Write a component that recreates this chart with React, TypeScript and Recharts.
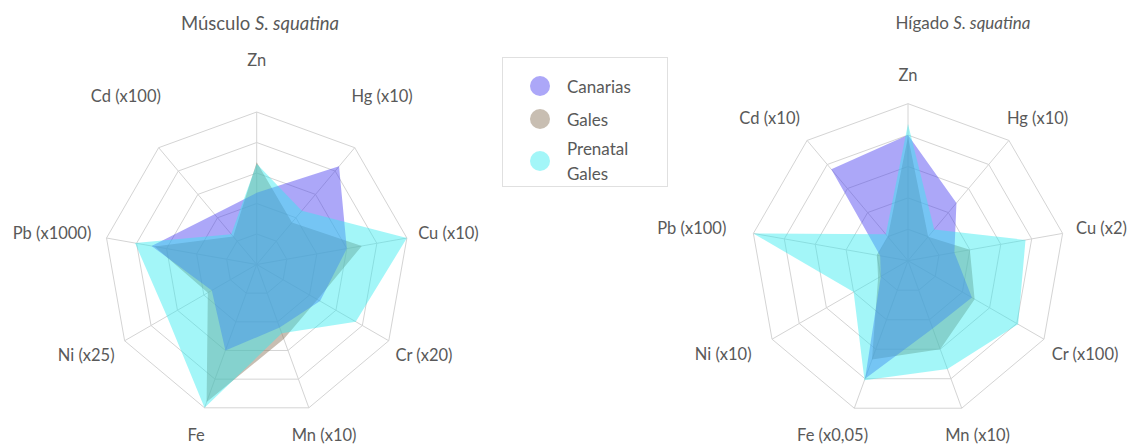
import React from "react";
import {
  RadarChart,
  Radar,
  PolarGrid,
  PolarAngleAxis,
  PolarRadiusAxis,
} from "recharts";

// axis labels (clockwise from the top)
const musculoLabels = ["Zn", "Hg (x10)", "Cu (x10)", "Cr (x20)", "Mn (x10)", "Fe", "Ni (x25)", "Pb (x1000)", "Cd (x100)"];
const higadoLabels = ["Zn", "Hg (x10)", "Cu (x2)", "Cr (x100)", "Mn (x10)", "Fe (x0,05)", "Ni (x10)", "Pb (x100)", "Cd (x10)"];

// Músculo S. squatina
const musculoCanarias = [2.35, 4.2, 3.0, 2.4, 2.2, 3.0, 1.7, 3.5, 2.15];
const musculoGales = [3.35, 1.8, 3.5, 2.3, 2.6, 4.8, 1.85, 3.4, 1.2];
const musculoPrenatal = [3.3, 2.3, 5.0, 3.75, 2.4, 5.0, 3.4, 4.05, 1.3];

// Hígado S. squatina
const higadoCanarias = [4.0, 2.4, 1.5, 2.35, 2.3, 4.0, 1.0, 0.9, 3.8];
const higadoGales = [3.95, 1.0, 2.0, 2.45, 3.0, 3.35, 1.1, 1.0, 1.0];
const higadoPrenatal = [4.35, 1.3, 3.8, 4.05, 3.67, 4.05, 2.0, 5.0, 1.1];

const FONT = "Lato, 'Open Sans', sans-serif";
const TEXT = "#595959";
const LABEL_SIZE = 16.5;

// drawing order: gales below, prenatal on top
const SERIES = [
  { key: "gales", fill: "#8c785f", opacity: 0.48 },
  { key: "canarias", fill: "#463cf0", opacity: 0.45 },
  { key: "prenatal", fill: "#32ebf0", opacity: 0.45 },
];

const LEGEND = [
  { name: ["Canarias"], fill: "#463cf0", opacity: 0.45 },
  { name: ["Gales"], fill: "#8c785f", opacity: 0.48 },
  { name: ["Prenatal", "Gales"], fill: "#32ebf0", opacity: 0.45 },
];

const buildRows = (labels: string[], c: number[], g: number[], p: number[]) =>
  labels.map((label, i) => ({ label, canarias: c[i], gales: g[i], prenatal: p[i] }));

let ctx: CanvasRenderingContext2D | null = null;
const textWidth = (t: string) => {
  if (!ctx) ctx = document.createElement("canvas").getContext("2d");
  if (!ctx) return t.length * 8;
  ctx.font = `${LABEL_SIZE}px Lato`;
  return ctx.measureText(t).width;
};

const makeTick =
  (cx: number, cy: number, r: number, gap: number, gapLeft: number, upLift: number | null) =>
  (props: any) => {
    const a = (props.payload.coordinate * Math.PI) / 180;
    const cos = Math.cos(a);
    const sin = Math.sin(a);
    const label = String(props.payload.value);
    const w = textWidth(label);
    const g = cos < -0.2 ? gapLeft : gap;
    const x = cx + r * cos + cos * (w / 2 + g);
    const dy = upLift !== null && sin > 0.5 ? upLift : sin * 29;
    const y = cy - r * sin - dy;
    return (
      <text
        x={x}
        y={y}
        textAnchor="middle"
        dominantBaseline="central"
        fontSize={LABEL_SIZE}
        fontFamily={FONT}
        fill={TEXT}
      >
        {label}
      </text>
    );
  };

interface IRadarProps {
  data: any[];
  cx: number;
  cy: number;
  r: number;
  gap: number;
  gapLeft: number;
  upLift: number | null;
}

const SpiderChart: React.FC<IRadarProps> = ({ data, cx, cy, r, gap, gapLeft, upLift }) => (
  <RadarChart
    width={1135}
    height={448}
    cx={cx}
    cy={cy}
    outerRadius={r}
    data={data}
    margin={{ top: 0, right: 0, bottom: 0, left: 0 }}
    style={{ position: "absolute", left: 0, top: 0 }}
  >
    <PolarGrid gridType="polygon" stroke="#d4d4d4" innerRadius={r / 5} />
    <PolarAngleAxis
      dataKey="label"
      tick={makeTick(cx, cy, r, gap, gapLeft, upLift)}
      axisLine={false}
      tickLine={false}
    />
    <PolarRadiusAxis domain={[0, 5]} tickCount={6} tick={false} axisLine={false} />
    {SERIES.map((s) => (
      <Radar
        key={s.key}
        dataKey={s.key}
        fill={s.fill}
        fillOpacity={s.opacity}
        stroke="none"
        dot={false}
        isAnimationActive={false}
      />
    ))}
  </RadarChart>
);

const Title: React.FC<{ center: number; name: string; size: number }> = ({ center, name, size }) => (
  <div
    style={{
      position: "absolute",
      left: center - 150,
      width: 300,
      top: 23 - size * 0.62,
      textAlign: "center",
      fontFamily: FONT,
      fontSize: size,
      color: TEXT,
    }}
  >
    {name} <i>S. squatina</i>
  </div>
);

const App: React.FC = () => {
  const musculo = buildRows(musculoLabels, musculoCanarias, musculoGales, musculoPrenatal);
  const higado = buildRows(higadoLabels, higadoCanarias, higadoGales, higadoPrenatal);

  return (
    <div
      style={{
        position: "absolute",
        left: 0,
        top: 0,
        width: 1135,
        height: 448,
        background: "#fff",
        overflow: "hidden",
      }}
    >
      <Title center={260} name="Músculo" size={18.5} />
      <Title center={963} name="Hígado" size={17} />
      <SpiderChart data={musculo} cx={256.7} cy={264.5} r={152.5} gap={12} gapLeft={16} upLift={52} />
      <SpiderChart data={higado} cx={908} cy={260.7} r={157} gap={14} gapLeft={28} upLift={null} />
      <div
        style={{
          position: "absolute",
          left: 502,
          top: 57,
          width: 166,
          height: 130,
          boxSizing: "border-box",
          border: "1px solid #e0e0e0",
          fontFamily: FONT,
          fontSize: 17,
          color: TEXT,
        }}
      >
        {LEGEND.map((item, i) => {
          const cyItem = [28, 61, 103][i];
          return (
            <React.Fragment key={item.name.join(" ")}>
              <div
                style={{
                  position: "absolute",
                  left: 27,
                  top: cyItem - 10,
                  width: 20,
                  height: 20,
                  borderRadius: 10,
                  background: item.fill,
                  opacity: item.opacity,
                }}
              />
              <div
                style={{
                  position: "absolute",
                  left: 64,
                  top: cyItem - (item.name.length * 25) / 2,
                  lineHeight: "25px",
                }}
              >
                {item.name.map((n) => (
                  <div key={n}>{n}</div>
                ))}
              </div>
            </React.Fragment>
          );
        })}
      </div>
    </div>
  );
};

export default App;
